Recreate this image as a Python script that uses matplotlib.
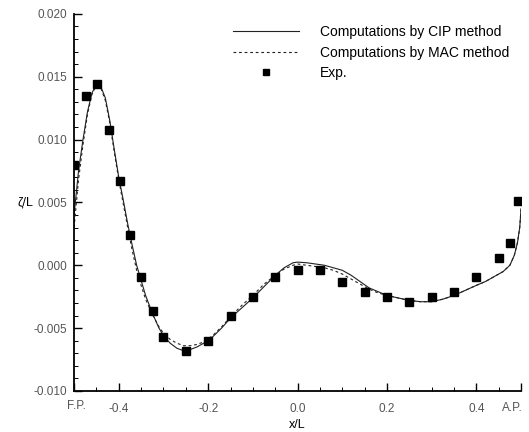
import matplotlib
matplotlib.use("Agg")
import matplotlib.pyplot as plt
from matplotlib.ticker import MultipleLocator
from matplotlib.transforms import ScaledTranslation

plt.rcParams['font.family'] = ['Liberation Sans', 'DejaVu Sans']

# experiment
exp_x = [-0.500, -0.474, -0.449, -0.422, -0.398, -0.375, -0.350, -0.324, -0.300,
         -0.250, -0.200, -0.150, -0.100, -0.050, 0.000, 0.050, 0.100, 0.150,
         0.200, 0.250, 0.300, 0.350, 0.400, 0.450, 0.475, 0.494]
exp_y = [0.0080, 0.0135, 0.0144, 0.01075, 0.0067, 0.0024, -0.0009, -0.0036, -0.0057,
         -0.0068, -0.0060, -0.0040, -0.0025, -0.0009, -0.0004, -0.0004, -0.0013, -0.0021,
         -0.0025, -0.0029, -0.0025, -0.0021, -0.0009, 0.0006, 0.0018, 0.0051]

# CIP computation (solid)
cip_x = [-0.500, -0.490, -0.480, -0.470, -0.460, -0.450, -0.440, -0.430, -0.420,
         -0.410, -0.400, -0.390, -0.380, -0.370, -0.360, -0.350, -0.340, -0.325,
         -0.310, -0.300, -0.285, -0.270, -0.255, -0.240, -0.225, -0.210, -0.190,
         -0.170, -0.150, -0.125, -0.100, -0.075, -0.050, -0.030, -0.010, 0.000,
         0.020, 0.040, 0.060, 0.080, 0.100, 0.120, 0.140, 0.160, 0.180, 0.200,
         0.225, 0.250, 0.275, 0.300, 0.325, 0.350, 0.375, 0.400, 0.420, 0.440,
         0.460, 0.475, 0.485, 0.492, 0.497, 0.500]
cip_y = [0.0040, 0.0075, 0.0100, 0.0122, 0.0137, 0.0144, 0.0142, 0.0133, 0.0115,
         0.0092, 0.0070, 0.0052, 0.0033, 0.0016, 0.0000, -0.0012, -0.0024, -0.0038,
         -0.0050, -0.0056, -0.0062, -0.0066, -0.0068, -0.0067, -0.0065, -0.0062, -0.0057,
         -0.0050, -0.0042, -0.0034, -0.0026, -0.0017, -0.0008, -0.0002, 0.0002, 0.00025,
         0.0002, 0.0001, 0.0000, -0.0002, -0.0004, -0.0008, -0.0013, -0.0018, -0.0021, -0.0024,
         -0.0026, -0.0028, -0.0029, -0.0029, -0.0027, -0.0024, -0.0020, -0.0016, -0.0013, -0.0009,
         -0.0005, 0.0000, 0.0008, 0.0018, 0.0030, 0.0045]

# MAC computation (dashed)
mac_x = [-0.500, -0.490, -0.480, -0.470, -0.460, -0.450, -0.440, -0.430, -0.420,
         -0.410, -0.400, -0.390, -0.380, -0.370, -0.360, -0.350, -0.340, -0.325,
         -0.310, -0.300, -0.285, -0.270, -0.255, -0.240, -0.225, -0.210, -0.190,
         -0.170, -0.150, -0.125, -0.100, -0.075, -0.050, -0.030, -0.010, 0.000,
         0.020, 0.040, 0.060, 0.080, 0.100, 0.120, 0.140, 0.160, 0.180, 0.200,
         0.225, 0.250, 0.275, 0.300, 0.325, 0.350, 0.375, 0.400, 0.420, 0.440,
         0.460, 0.475, 0.485, 0.492, 0.497, 0.500]
mac_y = [0.0030, 0.0068, 0.0096, 0.0120, 0.0136, 0.0143, 0.0141, 0.0131, 0.0113,
         0.0090, 0.0068, 0.0049, 0.0030, 0.0012, -0.0004, -0.0016, -0.0027, -0.0039,
         -0.0049, -0.0054, -0.0059, -0.0062, -0.0064, -0.0064, -0.0063, -0.0061, -0.0056,
         -0.0049, -0.0041, -0.0032, -0.0024, -0.0015, -0.0008, -0.0003, 0.0000, 0.0001,
         0.0000, -0.0001, -0.0002, -0.0004, -0.0007, -0.0011, -0.0015, -0.0019, -0.0022, -0.0024,
         -0.0026, -0.0028, -0.0029, -0.0029, -0.0027, -0.0024, -0.0020, -0.0016, -0.0013, -0.0009,
         -0.0005, 0.0000, 0.0008, 0.0018, 0.0030, 0.0045]

xticks = [-0.5, -0.4, -0.2, 0.0, 0.2, 0.4, 0.5]
xticklabels = ['F.P.', '-0.4', '-0.2', '0.0', '0.2', '0.4', 'A.P.']
yticks = [-0.010, -0.005, 0.000, 0.005, 0.010, 0.015, 0.020]

fig = plt.figure(figsize=(5.29, 4.32), dpi=100)
ax = fig.add_axes([0.14, 0.095, 0.845, 0.873])

ax.plot(cip_x, cip_y, color='#222222', lw=0.8, label='Computations by CIP method')
ax.plot(mac_x, mac_y, color='#222222', lw=0.8, ls=(0, (2.5, 2.5)),
        label='Computations by MAC method')
ax.plot(exp_x, exp_y, 's', color='black', ms=5.5, label='Exp.')

ax.set_xlim(-0.5, 0.5)
ax.set_ylim(-0.010, 0.020)
ax.set_xticks(xticks)
ax.set_xticklabels(xticklabels)
ax.set_yticks(yticks)
ax.set_yticklabels(['%.3f' % v for v in yticks])
ax.yaxis.set_minor_locator(MultipleLocator(0.001))
ax.xaxis.set_minor_locator(MultipleLocator(0.05))

for s in ['top', 'right']:
    ax.spines[s].set_visible(False)
for s in ['left', 'bottom']:
    ax.spines[s].set_linewidth(1.3)

ax.tick_params(which='major', direction='in', length=6, width=1, labelsize=8.5,
               labelcolor='#555555')
ax.tick_params(which='minor', direction='in', length=3, width=0.7)
ax.tick_params(axis='y', pad=5)
ax.tick_params(axis='x', pad=9)

# F.P. label sits a bit higher, A.P. pulled in from the edge
labels = ax.get_xticklabels()
fp = labels[0]
fp.set_transform(fp.get_transform() + ScaledTranslation(2 / 100, 3 / 100, fig.dpi_scale_trans))
ap = labels[-1]
ap.set_transform(ap.get_transform() + ScaledTranslation(-9 / 100, 1 / 100, fig.dpi_scale_trans))

fig.text(25 / 529, 1 - 202 / 432, 'ζ/L', fontsize=9, ha='center', va='center')
fig.text(297 / 529, 1 - 425 / 432, 'x/L', fontsize=9, ha='center', va='center')

ax.legend(loc='upper left', bbox_to_anchor=(233 / 529, 1 - 25 / 432),
          bbox_transform=fig.transFigure, frameon=False, fontsize=10,
          handlelength=4.75, handletextpad=1.5, labelspacing=0.47,
          borderaxespad=0, borderpad=0, markerscale=0.8)

fig.savefig('out.png', dpi=100)
